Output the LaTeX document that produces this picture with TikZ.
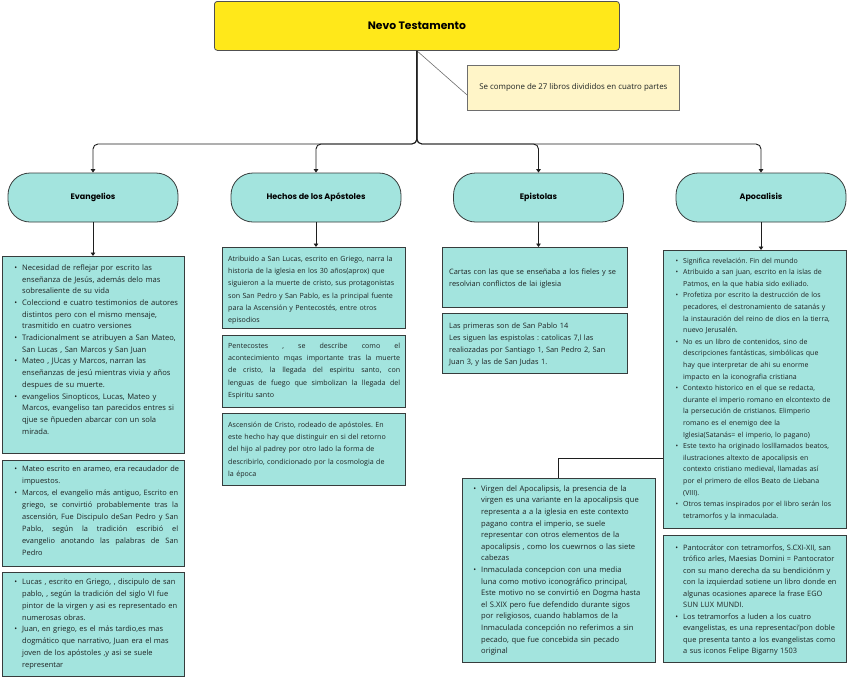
\documentclass[tikz,border=0pt]{standalone}
\usepackage{fontspec}
\setmainfont{Open Sans}
\newfontfamily\headfont{Poppins}
\usetikzlibrary{arrows.meta}
\definecolor{boxteal}{RGB}{163,228,222}
\definecolor{boxline}{RGB}{55,60,60}
\definecolor{linecol}{RGB}{30,30,30}
\definecolor{titleyellow}{RGB}{255,232,26}
\definecolor{titleline}{RGB}{80,80,80}
\definecolor{noteyellow}{RGB}{255,245,200}
\definecolor{notebord}{RGB}{110,110,110}
\definecolor{textcol}{RGB}{30,35,35}
\newcommand\bul{\makebox[0pt][r]{\textbullet\hspace{5pt}}}
\newcommand\jl[2]{{\spaceskip=.3333em plus 2em\relax\xspaceskip=.3333em plus 2em\relax\makebox[#1][s]{#2}}}
\frenchspacing
\begin{document}
\begin{tikzpicture}[x=1pt,y=-1pt,
 boxs/.style={draw=boxline,fill=boxteal,line width=0.8pt,inner sep=0pt,anchor=north west},
 pill/.style={draw=boxline,fill=boxteal,line width=0.8pt,rounded corners=22pt,minimum width=170pt,minimum height=49pt,inner sep=0pt,font=\headfont\bfseries\fontsize{8}{10}\selectfont},
 txt/.style={anchor=north west,inner sep=0pt,align=left,font=\fontsize{7.1}{11.7}\selectfont,text=textcol},
 conn/.style={draw=linecol,line width=0.9pt},
 tip/.style={-{Triangle[width=4.5pt,length=3.5pt]}}]
\useasboundingbox (0,0) rectangle (848,678);
\fill[white] (0,0) rectangle (848,678);

% title and note
\node[draw=titleline,fill=titleyellow,line width=0.8pt,rounded corners=3pt,minimum width=405pt,minimum height=49pt,inner sep=0pt,anchor=north west,font=\headfont\bfseries\fontsize{10.8}{12}\selectfont] (title) at (214,1) {Nevo Testamento};
\node[draw=notebord,fill=noteyellow,line width=0.8pt,minimum width=212pt,minimum height=45pt,inner sep=0pt,anchor=north west,font=\fontsize{7.9}{9}\selectfont,text=textcol] (note) at (467,65) {Se compone de 27 libros divididos en cuatro partes};
\draw[draw=notebord,line width=0.6pt] (title.south) -- ([yshift=-7pt]note.west);

% category pills
\node[pill] (pev) at (93,197.5) {Evangelios};
\node[pill] (phe) at (316,197.5) {Hechos de los Apóstoles};
\node[pill] (pep) at (538.5,197.5) {Epistolas};
\node[pill] (pap) at (761,197.5) {Apocalisis};

% content boxes
\node[boxs,minimum width=182pt,minimum height=197pt] (bev1) at (2,256) {};
\node[boxs,minimum width=182pt,minimum height=106pt] (bev2) at (2,460) {};
\node[boxs,minimum width=182pt,minimum height=104pt] (bev3) at (2,572) {};
\node[boxs,minimum width=183pt,minimum height=81pt] (bhe1) at (222,247) {};
\node[boxs,minimum width=183pt,minimum height=72pt] (bhe2) at (222,335) {};
\node[boxs,minimum width=183pt,minimum height=72pt] (bhe3) at (222,413) {};
\node[boxs,minimum width=185pt,minimum height=60pt] (bep1) at (442,247) {};
\node[boxs,minimum width=185pt,minimum height=60pt] (bep2) at (442,313) {};
\node[boxs,minimum width=183pt,minimum height=278pt] (bap1) at (663,250) {};
\node[boxs,minimum width=183pt,minimum height=127pt] (bap2) at (663,535) {};
\node[boxs,minimum width=193pt,minimum height=184pt] (bvi) at (462,478) {};

% texts
\node[txt,text width=180pt,font=\fontsize{7.6}{11.7}\selectfont] (tev1) at (22,264.3) {\bul Necesidad de reflejar por escrito las\\
enseñanza de Jesús, además delo mas\\
sobresaliente de su vida\\
\bul Colecciond e cuatro testimonios de autores\\
distintos pero con el mismo mensaje,\\
trasmitido en cuatro versiones\\
\bul Tradicionalment se atribuyen a San Mateo,\\
San Lucas , San Marcos y San Juan\\
\bul Mateo , JUcas y Marcos, narran las\\
enseñanzas de jesú mientras vivia y años\\
despues de su muerte.\\
\bul evangelios Sinopticos, Lucas, Mateo y\\
Marcos, evangeliso tan parecidos entres si\\
qjue se ñpueden abarcar con un sola\\
mirada.};

\node[txt,text width=180pt,font=\fontsize{7.4}{12}\selectfont] (tev2) at (22,465.4) {\bul Mateo escrito en arameo, era recaudador de\\
impuestos.\\
\bul \jl{156pt}{Marcos, el evangelio más antiguo, Escrito en}\\
\jl{156pt}{griego, se convirtió probablemente tras la}\\
\jl{156pt}{ascensión, Fue Discipulo deSan Pedro y San}\\
\jl{156pt}{Pablo, según la tradición escribió el}\\
\jl{156pt}{evangelio anotando las palabras de San}\\
Pedro};

\node[txt,text width=180pt,font=\fontsize{7.5}{11.9}\selectfont] (tev3) at (22,578.4) {\bul Lucas , escrito en Griego, , discipulo de san\\
pablo, , según la tradición del siglo VI fue\\
pintor de la virgen y asi es representado en\\
numerosas obras.\\
\bul Juan, en griego, es el más tardio,es mas\\
dogmático que narrativo, Juan era el mas\\
joven de los apóstoles ,y asi se suele\\
representar};

\node[txt,text width=180pt,font=\fontsize{7.1}{12.3}\selectfont] (the1) at (228,255.5) {Atribuido a San Lucas, escrito en Griego, narra la\\
historia de la iglesia en los 30 años(aprox) que\\
siguieron a la muerte de cristo, sus protagonistas\\
son San Pedro y San Pablo, es la principal fuente\\
para la Ascensión y Pentecostés, entre otros\\
episodios};

\node[txt,text width=180pt,font=\fontsize{7.1}{12.3}\selectfont] (the2) at (228,342.5) {\jl{172pt}{Pentecostes , se describe como el}\\
\jl{172pt}{acontecimiento mqas importante tras la muerte}\\
\jl{172pt}{de cristo, la llegada del espiritu santo, con}\\
\jl{172pt}{lenguas de fuego que simbolizan la llegada del}\\
Espiritu santo};

\node[txt,text width=180pt,font=\fontsize{7.1}{12.3}\selectfont] (the3) at (228,421.5) {Ascensión de Cristo, rodeado de apóstoles. En\\
este hecho hay que distinguir en si del retorno\\
del hijo al padrey por otro lado la forma de\\
describirlo, condicionado por la cosmologia de\\
la época};

\node[txt,text width=180pt,font=\fontsize{7.4}{12.3}\selectfont] (tep1) at (449,268.4) {Cartas con las que se enseñaba a los fieles y se\\
resolvian conflictos de lai iglesia};

\node[txt,text width=180pt,font=\fontsize{7.4}{12.1}\selectfont] (tep2) at (449,322.4) {Las primeras son de San Pablo 14\\
Les siguen las espistolas : catolicas 7,l las\\
realiozadas por Santiago 1, San Pedro 2, San\\
Juan 3, y las de San Judas 1.};

\node[txt,text width=170pt,font=\fontsize{7}{11.6}\selectfont] (tap1) at (683,257.5) {\bul Significa revelación. Fin del mundo\\
\bul Atribuido a san juan, escrito en la islas de\\
Patmos, en la que habia sido exiliado.\\
\bul Profetiza por escrito la destrucción de los\\
pecadores, el destronamiento de satanás y\\
la instauración del reino de dios en la tierra,\\
nuevo Jerusalén.\\
\bul No es un libro de contenidos, sino de\\
descripciones fantásticas, simbólicas que\\
hay que interpretar de ahi su enorme\\
impacto en la iconografia cristiana\\
\bul Contexto historico en el que se redacta,\\
durante el imperio romano en elcontexto de\\
la persecución de cristianos. Elimperio\\
romano es el enemigo dee la\\
Iglesia(Satanás= el imperio, lo pagano)\\
\bul Este texto ha originado loslllamados beatos,\\
ilustraciones altexto de apocalipsis en\\
contexto cristiano medieval, llamadas así\\
por el primero de ellos Beato de Liebana\\
(VIII).\\
\bul Otros temas inspirados por el libro serán los\\
tetramorfos y la inmaculada.};

\node[txt,text width=175pt,font=\fontsize{7.4}{11.5}\selectfont] (tap2) at (683,544.4) {\bul Pantocrátor con tetramorfos, S.CXI-XII, san\\
trófico arles, Maesias Domini = Pantocrator\\
con su mano derecha da su bendiciónm y\\
con la izquierdad sotiene un libro donde en\\
algunas ocasiones aparece la frase EGO\\
SUN LUX MUNDI.\\
\bul Los tetramorfos a luden a los cuatro\\
evangelistas, es una representaci'pon doble\\
que presenta tanto a los evangelistas como\\
a sus iconos Felipe Bigarny 1503};

\node[txt,text width=180pt,font=\fontsize{7.6}{11.6}\selectfont] (tvi) at (481,485.3) {\bul Virgen del Apocalipsis, la presencia de la\\
virgen es una variante en la apocalipsis que\\
representa a a la iglesia en este contexto\\
pagano contra el imperio, se suele\\
representar con otros elementos de la\\
apocalipsis , como los cuewrnos o las siete\\
cabezas\\
\bul Inmaculada concepcion con una media\\
luna como motivo iconográfico principal,\\
Este motivo no se convirtió en Dogma hasta\\
el S.XIX pero fue defendido durante sigos\\
por religiosos, cuando hablamos de la\\
Inmaculada concepción no referimos a sin\\
pecado, que fue concebida sin pecado\\
original};

% connectors
\coordinate (busy) at (0,144);
\foreach \p in {pev,phe,pep,pap}
  \draw[conn,tip,rounded corners=5pt] (title.south) -- (title.south |- busy) -| (\p.north);
\draw[conn,tip] (pev.south) -- (pev.south |- bev1.north);
\draw[conn,tip] (phe.south) -- (phe.south |- bhe1.north);
\draw[conn,tip] (pep.south) -- (pep.south |- bep1.north);
\draw[conn,tip] (pap.south) -- (pap.south |- bap1.north);
\coordinate (viy) at (0,458);
\draw[conn] (bap1.west |- viy) -| (bvi.north);
\end{tikzpicture}
\end{document}
